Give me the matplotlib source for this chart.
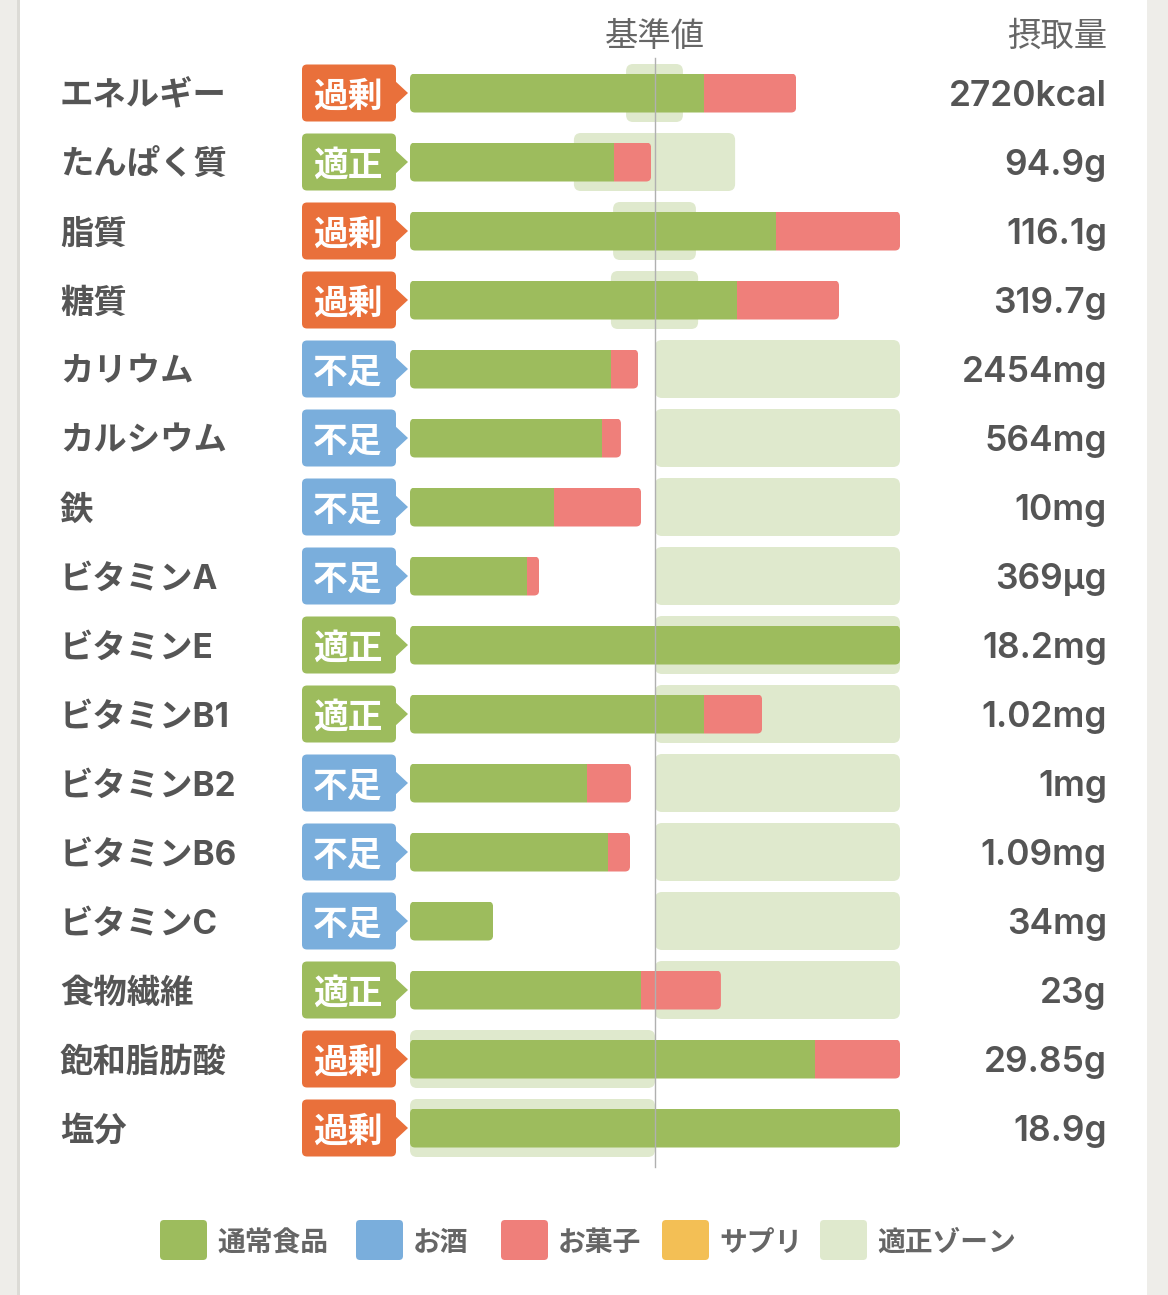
import matplotlib
matplotlib.use("Agg")
import matplotlib.pyplot as plt
from matplotlib.patches import FancyBboxPatch, Polygon, Rectangle

plt.rcParams['font.family'] = ['Noto Sans CJK JP', 'DejaVu Sans']
LATIN = ['Inter', 'Noto Sans CJK JP', 'DejaVu Sans']

# ---------------- data (percent of 基準値) ----------------
nutrients = ["エネルギー", "たんぱく質", "脂質", "糖質", "カリウム", "カルシウム", "鉄",
             "ビタミンA", "ビタミンE", "ビタミンB1", "ビタミンB2", "ビタミンB6",
             "ビタミンC", "食物繊維", "飽和脂肪酸", "塩分"]
status = ["過剰", "適正", "過剰", "過剰", "不足", "不足", "不足", "不足",
          "適正", "適正", "不足", "不足", "不足", "適正", "過剰", "過剰"]
intake = ["2720kcal", "94.9g", "116.1g", "319.7g", "2454mg", "564mg", "10mg",
          "369μg", "18.2mg", "1.02mg", "1mg", "1.09mg", "34mg", "23g",
          "29.85g", "18.9g"]
normal_food = [120.0, 83.3, 149.4, 133.5, 82.0, 78.4, 58.8, 47.8,
               200.0, 120.0, 72.2, 80.8, 33.9, 94.3, 165.3, 200.0]
snacks = [37.6, 15.1, 50.6, 41.6, 11.1, 7.7, 35.5, 4.9,
          0.0, 23.7, 18.0, 9.0, 0.0, 32.6, 34.7, 0.0]
zone_low = [88.2, 66.9, 82.9, 82.0, 100, 100, 100, 100,
            100, 100, 100, 100, 100, 100, 0, 0]
zone_high = [111.4, 132.7, 116.7, 117.6, 200, 200, 200, 200,
             200, 200, 200, 200, 200, 200, 100, 100]
legend_names = ["通常食品", "お酒", "お菓子", "サプリ", "適正ゾーン"]

# ---------------- styles ----------------
C_FOOD = "#9dbc5d"
C_ALC = "#7aaedc"
C_SNACK = "#ef7f7a"
C_SUPP = "#f3bf55"
C_ZONE = "#dfe9cd"
legend_colors = [C_FOOD, C_ALC, C_SNACK, C_SUPP, C_ZONE]
badge_colors = {"過剰": "#e9703b", "適正": "#9dbc5d", "不足": "#7aaedc"}
TXT = "#555555"

W, H = 1168, 1295
X0, XS = 410.0, 2.45      # px of 0%, px per 1%
Y0, YS = 93.0, 69.0       # px of first row centre, px per row


def px(x):
    return (x - X0) / XS


def py(y):
    return (y - Y0) / YS


ASP = XS / YS

fig = plt.figure(figsize=(W / 100, H / 100), dpi=100)
fig.patch.set_facecolor("#eeede9")
ax = fig.add_axes([0, 0, 1, 1])
ax.set_xlim(px(0), px(W))
ax.set_ylim(py(H), py(0))
ax.axis("off")

# white card
ax.add_patch(Rectangle((20 / W, 0), 1127 / W, 1, transform=ax.transAxes,
                       facecolor="white", edgecolor="none", zorder=0))
ax.add_patch(Rectangle((17 / W, 0), 3 / W, 1, transform=ax.transAxes,
                       facecolor="#dcdbd6", edgecolor="none", zorder=0))


def rbox(x, y, w, h, r_px, **kw):
    return FancyBboxPatch((x, y), w, h,
                          boxstyle=f"round,pad=0,rounding_size={r_px / XS}",
                          mutation_aspect=ASP, **kw)


rows = list(range(len(nutrients)))
BAR_H = 39 / YS
ZONE_H = 58 / YS
BADGE_H = 57 / YS

# zones
for i in rows:
    ax.add_patch(rbox(zone_low[i], i - ZONE_H / 2, zone_high[i] - zone_low[i],
                      ZONE_H, 7, facecolor=C_ZONE, edgecolor="none", zorder=1))

# bars
g = ax.barh(rows, normal_food, height=BAR_H, left=0, color=C_FOOD, zorder=2)
s = ax.barh(rows, snacks, height=BAR_H, left=normal_food, color=C_SNACK, zorder=2)
for i in rows:
    total = normal_food[i] + snacks[i]
    clip = rbox(0, i - BAR_H / 2, total, BAR_H, 5, transform=ax.transData)
    g[i].set_clip_path(clip)
    s[i].set_clip_path(clip)

# reference line
ax.plot([100, 100], [py(58), py(1167)], color="#b0b0b0", lw=1.0, zorder=5)

# badges, labels, values
for i in rows:
    col = badge_colors[status[i]]
    ax.add_patch(rbox(px(302), i - BADGE_H / 2, px(396) - px(302), BADGE_H, 5,
                      facecolor=col, edgecolor="none", zorder=3))
    ax.add_patch(Polygon([(px(394), i - 13 / YS), (px(408), i), (px(394), i + 13 / YS)],
                         closed=True, facecolor=col, edgecolor="none", zorder=3))
    ax.text(px(348), i, status[i], color="white", fontsize=25, fontweight="bold",
            ha="center", va="center_baseline", zorder=4)
    ax.text(px(60), i, nutrients[i], color=TXT, fontsize=24, fontweight="bold",
            ha="left", va="center_baseline", family=LATIN)
    ax.text(px(1107), i, intake[i], color=TXT, fontsize=25.5, fontweight="semibold",
            ha="right", va="center_baseline", family=LATIN)

# headers
ax.text(100, py(32), "基準値", color="#666666", fontsize=24, ha="center",
        va="center_baseline")
ax.text(px(1107), py(32), "摂取量", color="#666666", fontsize=24, ha="right",
        va="center_baseline")

# legend
sq_x = [160, 356, 501, 662, 820]
for name, colr, sx in zip(legend_names, legend_colors, sq_x):
    ax.add_patch(rbox(px(sx), py(1220), 47 / XS, 40 / YS, 4,
                      facecolor=colr, edgecolor="none", zorder=3))
    ax.text(px(sx + 57), py(1240), name, color="#666666", fontsize=20,
            fontweight="bold", ha="left", va="center_baseline")

fig.savefig("out.png", dpi=100, facecolor=fig.get_facecolor())
